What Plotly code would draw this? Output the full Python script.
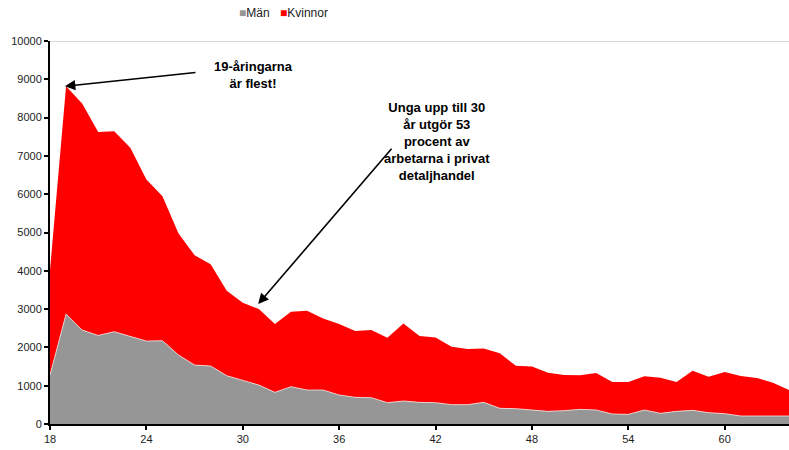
import plotly.graph_objects as go

ages = list(range(18, 65))
man = [1278, 2870, 2452, 2313, 2409, 2296, 2165, 2174, 1800, 1539, 1513, 1261, 1148, 1017,
       826, 974, 887, 887, 757, 696, 687, 557, 600, 565, 557, 505, 505, 565, 409, 400,
       365, 330, 348, 383, 365, 261, 252, 365, 278, 330, 356, 296, 270, 209, 209, 209, 209]
kvinnor = [2740, 5948, 5915, 5314, 5235, 4914, 4218, 3774, 3174, 2870, 2661, 2217, 2017, 1983,
           1783, 1956, 2070, 1870, 1852, 1730, 1765, 1695, 2026, 1731, 1704, 1512, 1452, 1409,
           1435, 1122, 1139, 1009, 930, 887, 965, 835, 844, 879, 931, 766, 1036, 939, 1087,
           1043, 991, 869, 678]
x_ticks = [18, 24, 30, 36, 42, 48, 54, 60]
y_ticks = [0, 1000, 2000, 3000, 4000, 5000, 6000, 7000, 8000, 9000, 10000]

font = "Liberation Sans, Arial, sans-serif"
GRAY = "#969696"
RED = "#ff0000"

fig = go.Figure()
fig.add_trace(go.Scatter(x=ages, y=man, name="Män", stackgroup="one", mode="lines",
                         line=dict(width=0.8, color="#e8e8e8"), fillcolor=GRAY, showlegend=False))
fig.add_trace(go.Scatter(x=ages, y=kvinnor, name="Kvinnor", stackgroup="one", mode="lines",
                         line=dict(width=0, color=RED), fillcolor=RED, showlegend=False))

# body margin is removed below, so positions are window pixels
W, H = 789, 450
L, R, T, B = 50, 0, 41, 26
pw, ph = W - L - R, H - T - B


def px_to_paper(xp, yp):
    return (xp - L) / pw, (H - B - yp) / ph


annotations = [
    dict(x=18.93, y=8818, ax=27.15, ay=9183, axref="x", ayref="y", xref="x", yref="y",
         text="", showarrow=True, arrowhead=2, arrowsize=1.3, arrowwidth=1.6, arrowcolor="black"),
    dict(x=30.96, y=3131, ax=39.34, ay=7227, axref="x", ayref="y", xref="x", yref="y",
         text="", showarrow=True, arrowhead=2, arrowsize=1.3, arrowwidth=1.6, arrowcolor="black"),
]


def text_ann(xp, yp, text, size=13, bold=True, xanchor="center"):
    x, y = px_to_paper(xp, yp)
    t = f"<b>{text}</b>" if bold else text
    annotations.append(dict(x=x, y=y, xref="paper", yref="paper", text=t, showarrow=False,
                            xanchor=xanchor, yanchor="middle",
                            font=dict(family=font, size=size, color="black")))


text_ann(253, 75, "19-åringarna<br>är flest!")
text_ann(437, 141.5, "Unga upp till 30<br>år utgör 53<br>procent av<br>arbetarna i privat<br>detaljhandel")

# legend drawn as text with coloured squares
lfont = "Liberation Sans Narrow, Liberation Sans, Arial, sans-serif"
for xp, color, label in [(237, GRAY, "Män"), (278, RED, "Kvinnor")]:
    x, y = px_to_paper(xp, 13)
    annotations.append(dict(x=x, y=y, xref="paper", yref="paper", showarrow=False,
                            xanchor="left", yanchor="middle",
                            text=f"<span style='color:{color}'>■</span>{label}",
                            font=dict(family=lfont, size=12, color="#222222")))

fig.update_layout(
    width=W, height=H,
    margin=dict(l=L, r=R, t=T, b=B, pad=0),
    plot_bgcolor="white", paper_bgcolor="white",
    font=dict(family=font, size=11, color="#222222"),
    showlegend=False,
    xaxis=dict(range=[18, 64], tickmode="array", tickvals=x_ticks, ticktext=[str(t) for t in x_ticks],
               showgrid=False, zeroline=False, showline=True, linecolor="black", linewidth=2,
               ticks="outside", ticklen=4, tickcolor="black", tickwidth=1.5, automargin=False),
    yaxis=dict(range=[0, 10000], tickmode="array", tickvals=y_ticks, ticktext=[str(t) for t in y_ticks],
               showgrid=False, zeroline=False, showline=True, linecolor="black", linewidth=2,
               ticks="outside", ticklen=4, tickcolor="black", tickwidth=1.5, automargin=False),
    annotations=annotations,
    shapes=[dict(type="line", xref="paper", yref="y", x0=0, x1=1, y0=10000, y1=10000,
                 line=dict(color="#c8c8c8", width=1.5), layer="below")],
)

fig.write_html("out.html", config={"displayModeBar": False},
               post_script="document.body.style.margin='0';document.body.style.overflow='hidden';")
